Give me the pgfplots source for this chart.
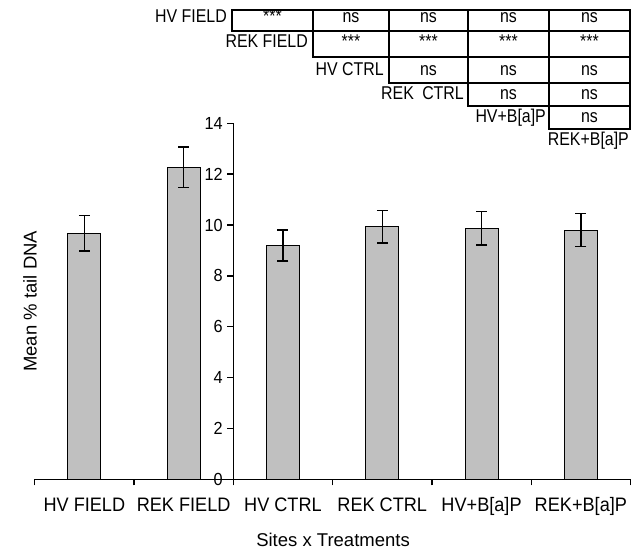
\documentclass[border=0pt]{standalone}
\usepackage{fontspec}
\setmainfont{Liberation Sans}
\newfontfamily\narrowsf{Liberation Sans}[FakeStretch=0.93]
\newfontfamily\tablesf{Liberation Sans}[FakeStretch=0.86]
\usepackage{pgfplots}
\pgfplotsset{compat=1.18}
\definecolor{barfill}{RGB}{192,192,192}
\begin{document}
\begin{tikzpicture}[x=1bp,y=1bp]
\path[use as bounding box] (0,0) rectangle (636,550);
\begin{axis}[
  at={(34.7bp,70.7bp)}, anchor=south west,
  scale only axis, width=595.8bp, height=356bp,
  xmin=-2, xmax=4, ymin=0, ymax=14,
  axis lines=middle, axis line style={-, line width=1.3bp, black},
  hide obscured x ticks=false, hide obscured y ticks=false,
  xtick={-2,-1,0,1,2,3,4}, x tick label as interval,
  xticklabels={{HV FIELD},{REK FIELD},{HV CTRL},{REK CTRL},{HV+B[a]P},{REK+B[a]P}},
  ytick={0,2,4,6,8,10,12,14},
  tick align=outside, major tick length=6bp,
  tick style={line width=1.3bp, black},
  /pgf/number format/assume math mode=true,
  xticklabel style={font=\narrowsf\fontsize{19.5bp}{22bp}\selectfont, anchor=base, yshift=-26bp},
  yticklabel style={font=\narrowsf\fontsize{17.5bp}{20bp}\selectfont, anchor=east, xshift=-1bp},
  xlabel={Sites x Treatments},
  ylabel={Mean \% tail DNA},
  every axis x label/.style={at={(axis description cs:0.5007,-0.1705)}, anchor=center, font=\fontsize{18.5bp}{22bp}\selectfont},
  every axis y label/.style={at={(axis description cs:-0.008,0.5)}, anchor=center, rotate=90, font=\fontsize{18.5bp}{22bp}\selectfont},
  clip=false,
]
\addplot[ybar, bar width=33bp, fill=barfill, draw=black, line width=1bp,
  error bars/.cd, y dir=both, y explicit,
  error bar style={line width=1.5bp, black},
  error mark options={rotate=90, line width=1.5bp, mark size=5.5bp, black}]
  coordinates {
  (-1.5,9.67) +- (0,0.70)
  (-0.5,12.27) +- (0,0.80)
  (0.5,9.20) +- (0,0.61)
  (1.5,9.93) +- (0,0.64)
  (2.5,9.87) +- (0,0.66)
  (3.5,9.80) +- (0,0.65)
  };
\end{axis}
% significance table
\begin{scope}[line width=2bp, black]
\draw (232,540) rectangle (630,519);
\draw (313,519) rectangle (630,493);
\draw (389,493) rectangle (630,467);
\draw (468,467) rectangle (630,444);
\draw (549,444) rectangle (630,421);
\foreach \c in {313,389,468,549} \draw (\c,540) -- (\c,519);
\foreach \c in {389,468,549} \draw (\c,519) -- (\c,493);
\foreach \c in {468,549} \draw (\c,493) -- (\c,467);
\draw (549,467) -- (549,444);
\end{scope}
\begin{scope}[every node/.style={font=\tablesf\fontsize{18.5bp}{21bp}\selectfont, inner sep=0pt, anchor=base}]
\node[anchor=base east] at (227,527.3) {HV FIELD};
\node[anchor=base east] at (308,502.3) {REK FIELD};
\node[anchor=base east] at (384,474.9) {HV CTRL};
\node[anchor=base east] at (464,450.6) {REK\hspace{0.45em}CTRL};
\node[anchor=base east] at (546,427.3) {HV+B[a]P};
\node[anchor=base east] at (629,404.7) {REK+B[a]P};
% row 1
\node at (272.5,527.3) {***};
\node at (351,527.3) {ns};
\node at (428.5,527.3) {ns};
\node at (508.5,527.3) {ns};
\node at (589.5,527.3) {ns};
% row 2
\node at (351,502.3) {***};
\node at (428.5,502.3) {***};
\node at (508.5,502.3) {***};
\node at (589.5,502.3) {***};
% row 3
\node at (428.5,474.9) {ns};
\node at (508.5,474.9) {ns};
\node at (589.5,474.9) {ns};
% row 4
\node at (508.5,450.6) {ns};
\node at (589.5,450.6) {ns};
% row 5
\node at (589.5,427.3) {ns};
\end{scope}
\end{tikzpicture}
\end{document}
